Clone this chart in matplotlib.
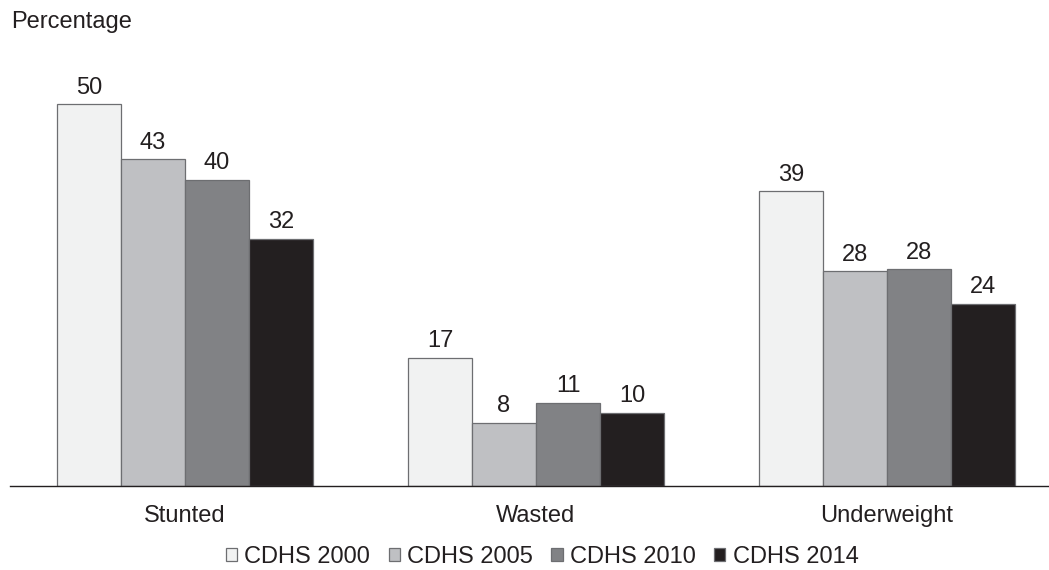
import matplotlib
matplotlib.use('Agg')
import matplotlib.pyplot as plt
import numpy as np

# Data
categories = ['Stunted', 'Wasted', 'Underweight']
series = ['CDHS 2000', 'CDHS 2005', 'CDHS 2010', 'CDHS 2014']
values = {
    'CDHS 2000': [50.0, 16.8, 38.6],
    'CDHS 2005': [42.8, 8.3, 28.1],
    'CDHS 2010': [40.1, 10.9, 28.4],
    'CDHS 2014': [32.4, 9.6, 23.9],
}
labels = {
    'CDHS 2000': ['50', '17', '39'],
    'CDHS 2005': ['43', '8', '28'],
    'CDHS 2010': ['40', '11', '28'],
    'CDHS 2014': ['32', '10', '24'],
}
colors = ['#f1f2f2', '#bfc0c3', '#818285', '#231f20']

plt.rcParams['font.family'] = ['Liberation Sans', 'DejaVu Sans']

fig = plt.figure(figsize=(10.49, 5.70), dpi=100)
ax = fig.add_axes([10 / 1049, 1 - 486 / 570, 1039 / 1049, 456 / 570])

x = np.arange(len(categories))
w = 64 / 351
for i, s in enumerate(series):
    pos = x + (i - 1.5) * w
    bars = ax.bar(pos, values[s], width=w, color=colors[i], edgecolor='#6d6e71',
                  linewidth=0.9, label=s)
    for b, lab in zip(bars, labels[s]):
        ax.annotate(lab, (b.get_x() + b.get_width() / 2, b.get_height()),
                    xytext=(0, 4), textcoords='offset points', ha='center',
                    va='bottom', fontsize=17, color='#231f20')

ax.set_xlim(-175 / 351, -175 / 351 + 1039 / 351)
ax.set_ylim(0, 456 / 7.634)
ax.set_xticks(x)
ax.set_xticklabels(categories, fontsize=17, color='#231f20')
ax.tick_params(axis='x', length=0, pad=14)
ax.set_yticks([])
for side in ['top', 'right', 'left']:
    ax.spines[side].set_visible(False)
ax.spines['bottom'].set_color('#231f20')
ax.spines['bottom'].set_linewidth(1.0)

fig.text(11 / 1049, 1 - 22 / 570, 'Percentage', fontsize=17, ha='left',
         va='center', color='#231f20')

leg = fig.legend(loc='center', bbox_to_anchor=(542 / 1049, 1 - 557 / 570), ncol=4,
                 frameon=False, fontsize=17, handlelength=0.47, handleheight=0.47,
                 handletextpad=0.3, columnspacing=0.8, borderaxespad=0,
                 borderpad=0)
for t in leg.get_texts():
    t.set_color('#231f20')

fig.savefig('out.png', dpi=100)
